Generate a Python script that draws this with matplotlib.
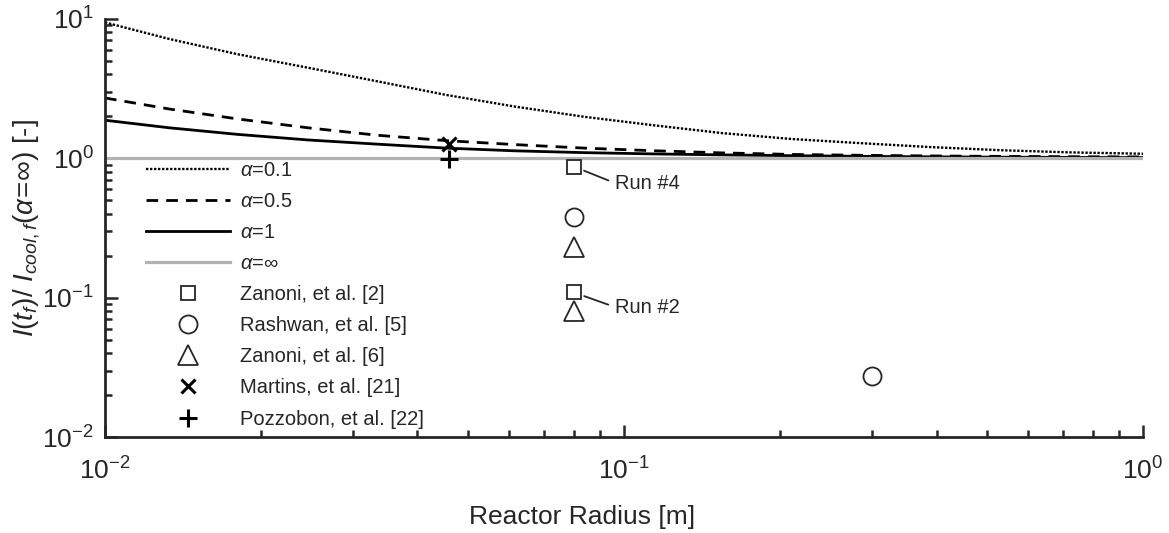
import matplotlib
matplotlib.use("Agg")
import matplotlib.pyplot as plt

plt.rcParams['font.family'] = ['Liberation Sans', 'DejaVu Sans']
plt.rcParams['mathtext.fontset'] = 'custom'
plt.rcParams['mathtext.rm'] = 'Liberation Sans'
plt.rcParams['mathtext.it'] = 'Liberation Sans:italic'
plt.rcParams['mathtext.bf'] = 'Liberation Sans:bold'

# ---- data ----
radius = [0.01, 0.0133, 0.018, 0.0246, 0.0334, 0.0454, 0.0617, 0.0837,
          0.114, 0.155, 0.211, 0.286, 0.389, 0.53, 0.719, 1.0]
alpha_01 = [9.4, 7.15, 5.56, 4.45, 3.56, 2.84, 2.34, 1.98,
            1.72, 1.51, 1.37, 1.28, 1.20, 1.14, 1.10, 1.075]
alpha_05 = [2.70, 2.25, 1.91, 1.65, 1.46, 1.335, 1.25, 1.18,
            1.13, 1.09, 1.063, 1.048, 1.037, 1.029, 1.024, 1.02]
alpha_1 = [1.87, 1.65, 1.48, 1.35, 1.26, 1.18, 1.128, 1.095,
           1.072, 1.055, 1.041, 1.030, 1.022, 1.016, 1.012, 1.009]
alpha_inf_x = [0.01, 1.0]
alpha_inf = [1.0, 1.0]

zanoni2_x = [0.08, 0.08]
zanoni2_y = [0.87, 0.109]
rashwan_x = [0.08, 0.30]
rashwan_y = [0.378, 0.0274]
zanoni6_x = [0.08, 0.08]
zanoni6_y = [0.23, 0.080]
martins_x = [0.046]
martins_y = [1.26]
pozzobon_x = [0.046]
pozzobon_y = [0.98]

run_labels = ["Run #4", "Run #2"]
run_point_y = [0.87, 0.109]
run_text_x = [0.0961, 0.0961]
run_text_y = [0.662, 0.0855]

fig = plt.figure(figsize=(11.69, 5.33), dpi=100)
ax = fig.add_axes([0.0898, 0.180, 0.888, 0.785])

dark = '#262626'
ax.plot(radius, alpha_01, color='black', lw=1.7, ls=(0, (1, 0.7)), label=r'$\alpha$=0.1')
ax.plot(radius, alpha_05, color='black', lw=2.0, ls=(0, (4.2, 2.9)), label=r'$\alpha$=0.5')
ax.plot(radius, alpha_1, color='black', lw=2.0, ls='-', label=r'$\alpha$=1')
ax.plot(alpha_inf_x, alpha_inf, color='#b3b3b3', lw=2.3, ls='-', label=r'$\alpha$=$\infty$')

mk = dict(ls='none', mfc='none', mec=dark, color=dark)
ax.plot(zanoni2_x, zanoni2_y, marker='s', ms=9.5, mew=1.3, label='Zanoni, et al. [2]', **mk)
ax.plot(rashwan_x, rashwan_y, marker='o', ms=13, mew=1.3, label='Rashwan, et al. [5]', **mk)
ax.plot(zanoni6_x, zanoni6_y, marker='^', ms=14, mew=1.3, label='Zanoni, et al. [6]', **mk)
ax.plot(martins_x, martins_y, marker='x', ms=10, mew=2.2, ls='none', color='black', label='Martins, et al. [21]')
ax.plot(pozzobon_x, pozzobon_y, marker='+', ms=13, mew=2.2, ls='none', color='black', label='Pozzobon, et al. [22]')

for lab, py, tx, ty in zip(run_labels, run_point_y, run_text_x, run_text_y):
    ax.annotate(lab, xy=(0.08, py), xycoords='data',
                xytext=(tx, ty), textcoords='data', fontsize=14.5, color=dark,
                ha='left', va='center',
                arrowprops=dict(arrowstyle='-', color=dark, lw=1.3,
                                shrinkA=3, shrinkB=8, relpos=(0, 0.5)))

ax.set_xscale('log')
ax.set_yscale('log')
ax.set_xlim(0.01, 1)
ax.set_ylim(0.01, 10)

for s in ['top', 'right']:
    ax.spines[s].set_visible(False)
for s in ['left', 'bottom']:
    ax.spines[s].set_linewidth(2.0)
    ax.spines[s].set_color(dark)

ax.tick_params(which='both', direction='in', colors=dark, width=1.8)
ax.tick_params(which='major', length=9, labelsize=19, pad=8)
ax.tick_params(axis='x', which='major', pad=15)
ax.tick_params(which='minor', length=5)

ax.set_xlabel('Reactor Radius [m]', fontsize=19, color=dark)
ax.xaxis.set_label_coords(0.4595, -0.163)
ax.set_ylabel(r'$I(t_f)/\ I_{cool,f}(\alpha\!=\!\infty)$ [-]', fontsize=20, color=dark,
              labelpad=0)

leg = ax.legend(loc='upper left', bbox_to_anchor=(0.040, 0.660), frameon=False,
                fontsize=14.5, handlelength=4.15, handletextpad=0.5,
                labelspacing=0.60, borderpad=0, borderaxespad=0)
for t in leg.get_texts():
    t.set_color(dark)

fig.savefig('out.png', dpi=100)
